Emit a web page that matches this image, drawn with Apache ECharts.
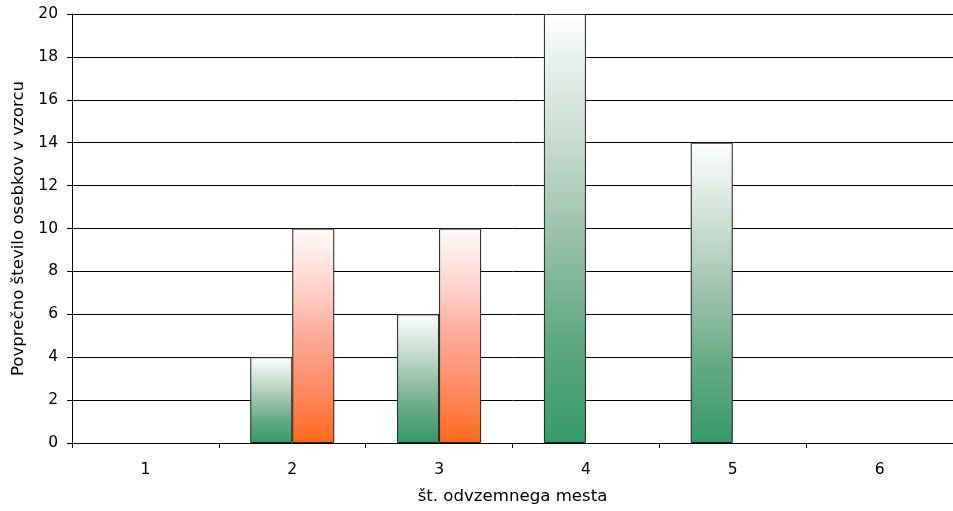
<!DOCTYPE html>
<html>
<head>
<meta charset="utf-8">
<script src="https://cdn.jsdelivr.net/npm/echarts@6/dist/echarts.min.js"></script>
<style>
html,body{margin:0;padding:0;background:#fff;}
#chart{width:953px;height:511px;}
</style>
</head>
<body>
<div id="chart"></div>
<script>
// Sampling sites and average specimen counts per sample
const categories = ['1', '2', '3', '4', '5', '6'];
const greenValues = [0, 4, 6, 20, 14, 0];
const orangeValues = [0, 10, 10, 0, 0, 0];
const yTicks = { min: 0, max: 20, interval: 2 };

const font = 'DejaVu Sans';

// vertical fade from a saturated base to white at the bar top
function vgrad(stops) {
  return new echarts.graphic.LinearGradient(0, 1, 0, 0,
    stops.map(s => ({ offset: s[0], color: s[1] })));
}
const greenFill = vgrad([[0, '#369a68'], [0.25, '#62a982'], [0.5, '#9dc2ad'], [0.75, '#d0e1d7'], [1, '#fdfefd']]);
const orangeFill = vgrad([[0, '#ff6a1a'], [0.25, '#ff8a62'], [0.5, '#ffaa9a'], [0.75, '#ffd6d0'], [1, '#fffcfa']]);

// zero counts draw no bar
const hideZero = arr => arr.map(v => (v === 0 ? '-' : v));

const chart = echarts.init(document.getElementById('chart'), null, { renderer: 'canvas' });
chart.setOption({
  animation: false,
  backgroundColor: '#ffffff',
  grid: { left: 72, right: 0, top: 14, bottom: 68, containLabel: false, outerBoundsMode: 'none' },
  xAxis: {
    type: 'category',
    data: categories,
    name: 'št. odvzemnega mesta',
    nameLocation: 'middle',
    nameGap: 45,
    nameTextStyle: { fontFamily: font, fontSize: 16.6, color: '#000' },
    axisLine: { lineStyle: { color: '#000', width: 1 } },
    axisTick: { show: true, alignWithLabel: false, length: 5, lineStyle: { color: '#000' } },
    axisLabel: { fontFamily: font, fontSize: 15.5, color: '#000', margin: 19 },
    splitLine: { show: false }
  },
  yAxis: {
    type: 'value',
    min: yTicks.min,
    max: yTicks.max,
    interval: yTicks.interval,
    name: 'Povprečno število osebkov v vzorcu',
    nameLocation: 'middle',
    nameGap: 45,
    nameRotate: 90,
    nameTextStyle: { fontFamily: font, fontSize: 16.6, color: '#000' },
    axisLine: { show: true, lineStyle: { color: '#000', width: 1 } },
    axisTick: { show: true, inside: false, length: 5, lineStyle: { color: '#000' } },
    axisLabel: { fontFamily: font, fontSize: 15.5, color: '#000', margin: 14 },
    splitLine: { show: true, lineStyle: { color: '#000', width: 1 } }
  },
  series: [
    {
      type: 'bar',
      data: hideZero(greenValues),
      barWidth: 42,
      barGap: '0%',
      itemStyle: { color: greenFill, borderColor: '#222', borderWidth: 1 }
    },
    {
      type: 'bar',
      data: hideZero(orangeValues),
      barWidth: 42,
      barGap: '0%',
      itemStyle: { color: orangeFill, borderColor: '#222', borderWidth: 1 }
    }
  ]
});
</script>
</body>
</html>
